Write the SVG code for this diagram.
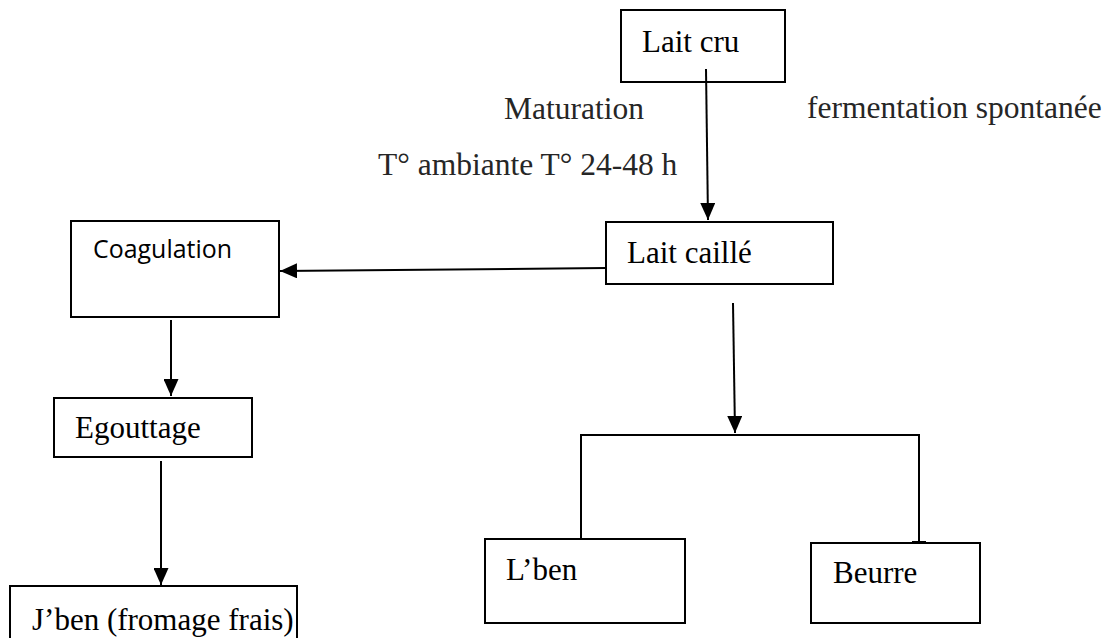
<svg xmlns="http://www.w3.org/2000/svg" width="1113" height="638" viewBox="0 0 1113 638">
<style>
.box{fill:#fff;stroke:#000;stroke-width:2}
.t{font-family:"Liberation Serif","Times New Roman",serif;font-size:31px;fill:#000}
.g{font-family:"Liberation Serif","Times New Roman",serif;font-size:31.5px;fill:#262626}
.c{font-family:"Open Sans","Noto Sans",sans-serif;font-size:25px;fill:#000}
.ln{stroke:#000;stroke-width:2;fill:none}
</style>
<defs>
<marker id="ah" markerWidth="17" markerHeight="15" refX="17" refY="7.5" orient="auto" markerUnits="userSpaceOnUse">
<path d="M0,0 L17,7.5 L0,15 Z" fill="#000"/>
</marker>
</defs>
<rect width="1113" height="638" fill="#fff"/>
<g id="labels">
<text class="g" x="504" y="119">Maturation</text>
<text class="g" x="807" y="118">fermentation spontanée</text>
<text class="g" x="378" y="175">T° ambiante T° 24-48 h</text>
</g>
<g id="lait-cru">
<rect class="box" x="621" y="10" width="164" height="72"/>
<text class="t" x="642" y="52">Lait cru</text>
</g>
<g id="lait-caille">
<rect class="box" x="606" y="222" width="227" height="62"/>
<text class="t" x="627" y="263">Lait caillé</text>
</g>
<g id="coagulation">
<rect class="box" x="71" y="221" width="208" height="96"/>
<text class="c" x="93" y="258" textLength="139" lengthAdjust="spacingAndGlyphs">Coagulation</text>
</g>
<g id="egouttage">
<rect class="box" x="54" y="398" width="198" height="59"/>
<text class="t" x="75" y="438">Egouttage</text>
</g>
<g id="jben">
<rect class="box" x="10" y="586" width="287" height="60"/>
<text class="t" x="32" y="630">J’ben (fromage frais)</text>
</g>
<g id="lben">
<rect class="box" x="485" y="539" width="200" height="84"/>
<text class="t" x="506" y="580">L’ben</text>
</g>
<g id="beurre">
<rect class="box" x="811" y="543" width="169" height="80"/>
<text class="t" x="833" y="583">Beurre</text>
</g>
<g id="connectors">
<line class="ln" x1="706" y1="69" x2="708" y2="220" marker-end="url(#ah)"/>
<line class="ln" x1="606" y1="268" x2="280" y2="271" marker-end="url(#ah)"/>
<line class="ln" x1="171" y1="320" x2="171" y2="396" marker-end="url(#ah)"/>
<line class="ln" x1="161" y1="461" x2="161" y2="585" marker-end="url(#ah)"/>
<line class="ln" x1="733" y1="303" x2="735" y2="433" marker-end="url(#ah)"/>
<polyline class="ln" points="581,539 581,435 919,435 919,543"/>
<line class="ln" x1="912" y1="542" x2="926" y2="542"/>
</g>
</svg>
